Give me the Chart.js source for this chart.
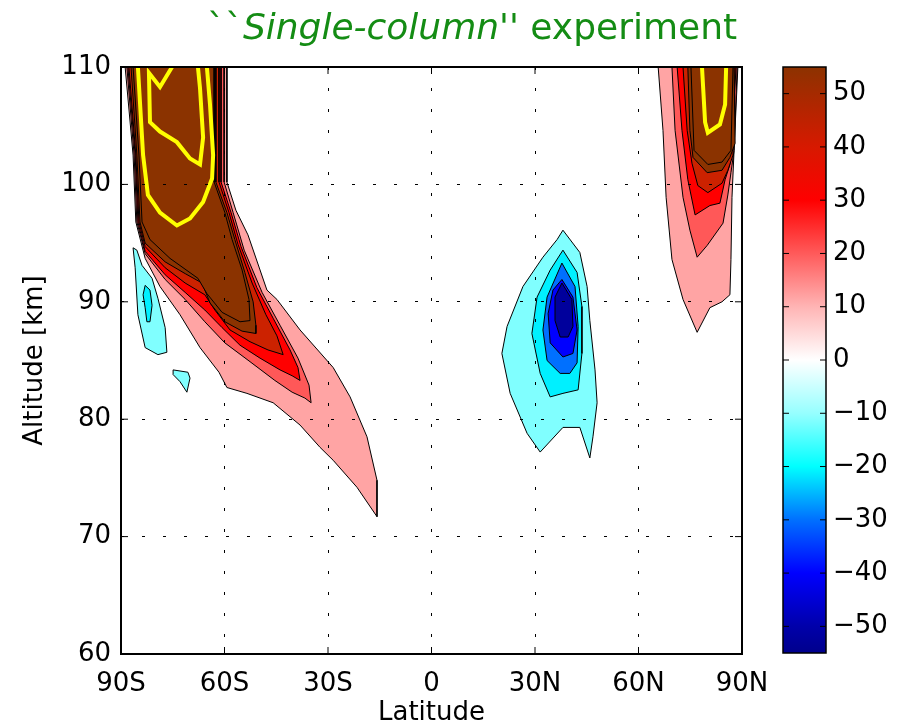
<!DOCTYPE html>
<html>
<head>
<meta charset="utf-8">
<title>Single-column experiment</title>
<script src="https://cdn.jsdelivr.net/npm/chart.js@4.4.1/dist/chart.umd.min.js"></script>
<style>
  html, body { margin: 0; padding: 0; background: #fff; }
  #wrap { position: relative; width: 900px; height: 728px; overflow: hidden; }
  #main { position: absolute; left: 0; top: 0; }
  #cbar { position: absolute; left: 760px; top: 0; }
  #title {
    position: absolute; left: 0; top: 6px; width: 944px; text-align: center;
    font: 36px 'DejaVu Sans', sans-serif; color: #148c14; white-space: nowrap;
  }
</style>
</head>
<body>
<div id="wrap">
  <canvas id="main" width="900" height="728"></canvas>
  <canvas id="cbar" width="140" height="728"></canvas>
  <div id="title">``<i>Single-column''</i> experiment</div>
</div>
<script>
// axes
const latTicks = [-90, -60, -30, 0, 30, 60, 90];
const latTickLabels = ['90S', '60S', '30S', '0', '30N', '60N', '90N'];
const altTicks = [60, 70, 80, 90, 100, 110];

// colour bar
const cbarTicks = [-50, -40, -30, -20, -10, 0, 10, 20, 30, 40, 50];
const cbarStops = [-55, -50, -40, -30, -20, -10, 0, 10, 20, 30, 40, 50, 55];
const cbarColors = ['#00008c', '#0000aa', '#0000ff', '#0070ff', '#00ffff', '#96ffff', '#ffffff',
                    '#ffb4b4', '#ff5a5a', '#ff0000', '#d71900', '#a52a00', '#8c3200'];

// contour levels and the fill of the band above each one
const levels = [-50, -40, -30, -20, -10, 10, 20, 30, 40, 50, 60];
const bandColors = ['#00009c', '#0000ff', '#0070ff', '#00f0ff', '#80ffff',
                    '#ffa4a4', '#ff5858', '#ff0000', '#cc2200', '#8b3300', '#8b3300'];

// contour outlines, [latitude, altitude km]; southern high-latitude tongue
const s10 = [[-88.8,110],[-59.3,110],[-59.3,100.2],[-56.7,97.8],[-53.2,95.7],[-47.7,91.0],[-44.8,90.2],
  [-38.1,87.6],[-28.5,84.4],[-23.6,81.9],[-18.7,78.5],[-15.8,74.8],[-15.8,71.7],[-21.6,74.2],[-28.5,76.5],
  [-32.3,77.6],[-38.1,79.5],[-45.9,81.4],[-53.5,82.2],[-59.3,82.7],[-61.6,84.0],[-67.1,86.1],[-72.9,88.9],
  [-78.7,91.3],[-83.0,93.7],[-85.7,96.8],[-86.5,102.5],[-88.8,110]];
const s20 = [[-88.3,110],[-60.1,110],[-60.1,100.2],[-57.5,97.6],[-54.3,94.4],[-49.1,90.8],[-43.9,88.0],
  [-38.7,85.2],[-35.5,82.9],[-34.9,81.4],[-36.7,81.8],[-40.4,82.3],[-45.4,83.3],[-52.6,84.9],[-59.9,86.5],
  [-65.7,88.3],[-71.4,90.2],[-77.2,91.9],[-83.0,94.1],[-85.4,96.8],[-86.2,102.5],[-88.3,110]];
const s30 = [[-88.0,110],[-61.0,110],[-61.0,100.2],[-58.1,97.6],[-55.2,94.7],[-50.6,91.2],[-45.9,88.6],
  [-41.0,85.9],[-38.7,84.4],[-38.1,83.3],[-40.4,83.7],[-43.9,84.2],[-49.7,85.2],[-55.5,86.3],[-60.7,87.8],
  [-65.7,89.3],[-71.4,90.8],[-77.2,92.3],[-83.0,94.3],[-85.1,96.8],[-85.9,102.5],[-88.0,110]];
const s40 = [[-87.7,110],[-61.6,110],[-61.6,100.2],[-58.7,97.6],[-56.1,94.9],[-52.0,91.6],[-48.0,88.9],
  [-44.8,87.1],[-43.0,85.5],[-47.4,85.9],[-52.6,86.6],[-58.4,87.6],[-62.8,89.3],[-65.7,90.6],[-71.4,91.6],
  [-77.2,92.9],[-83.0,94.7],[-84.8,96.8],[-85.7,102.5],[-87.7,110]];
const s50 = [[-87.1,110],[-62.5,110],[-62.5,100.2],[-59.3,97.6],[-57.0,95.3],[-54.1,92.5],[-51.7,90.0],
  [-50.9,88.0],[-50.9,87.3],[-54.9,87.5],[-59.9,88.3],[-64.2,89.9],[-66.5,91.6],[-71.4,92.4],[-77.2,93.4],
  [-83.0,95.0],[-84.5,96.8],[-85.4,102.5],[-87.1,110]];
const s60 = [[-86.5,110],[-63.0,110],[-63.0,100.2],[-59.9,97.6],[-57.8,95.3],[-54.9,92.7],[-52.9,90.2],
  [-52.6,88.4],[-55.5,88.3],[-60.7,89.1],[-65.1,90.7],[-67.7,92.0],[-75.8,93.7],[-81.6,95.3],[-83.9,96.8],
  [-84.8,102.5],[-86.5,110]];

// weak easterly patches next to it
const sNeg10a = [[-86.5,94.6],[-85.9,92.9],[-85.1,88.9],[-83.0,86.1],[-79.3,85.5],[-76.7,85.7],[-77.2,87.8],
  [-79.3,90.3],[-81.0,92.0],[-83.9,93.1],[-85.4,94.4],[-86.5,94.6]];
const sNeg20 = [[-83.0,91.4],[-81.6,91.0],[-81.0,89.7],[-81.6,88.3],[-82.5,88.3],[-83.0,89.5],[-83.6,90.6],[-83.0,91.4]];
const sNeg10b = [[-74.9,84.2],[-70.6,84.0],[-70.0,83.5],[-70.9,82.3],[-72.9,83.2],[-74.9,83.8],[-74.9,84.2]];

// mid-latitude northern minimum
const nNeg10 = [[38.1,96.1],[43.0,94.2],[45.1,91.3],[45.9,88.4],[47.4,84.2],[48.0,81.4],[46.8,78.5],[45.9,76.7],
  [43.0,79.3],[38.1,79.3],[31.5,77.2],[27.7,78.8],[22.8,82.2],[20.4,85.6],[21.9,87.9],[26.5,91.3],[32.3,93.8],
  [36.4,95.3],[38.1,96.1]];
const nNeg20 = [[38.1,94.4],[42.2,92.5],[43.6,89.6],[43.6,85.6],[42.5,82.5],[38.1,82.2],[34.4,81.9],[31.5,83.9],
  [29.1,87.3],[30.6,90.4],[34.4,92.7],[38.1,94.4]];
const nNeg30 = [[37.8,93.3],[41.6,91.3],[42.5,87.9],[42.2,84.8],[40.1,83.9],[37.3,83.9],[33.5,85.0],[32.3,87.6],
  [33.5,90.4],[37.8,93.3]];
const nNeg40 = [[37.8,91.9],[41.0,90.4],[42.2,87.6],[41.0,85.6],[38.1,85.3],[34.4,86.5],[33.8,89.0],[35.2,91.0],[37.8,91.9]];
const nNeg50 = [[37.8,91.6],[40.7,90.2],[41.0,87.9],[39.6,87.0],[37.3,87.0],[35.8,88.4],[35.8,90.4],[37.8,91.6]];

// northern high-latitude tongue
const n10 = [[65.7,110],[67.1,104.6],[68.0,98.9],[69.7,93.6],[72.9,90.2],[77.0,87.4],[80.7,89.5],[84.2,90.0],
  [86.5,90.6],[86.8,93.6],[87.1,98.9],[87.7,102.9],[88.8,110],[65.7,110]];
const n20 = [[69.7,110],[70.6,104.6],[72.9,98.9],[74.9,96.1],[77.0,93.8],[79.9,94.8],[84.5,96.7],[85.9,99.1],
  [86.8,101.0],[87.7,102.9],[88.6,110],[69.7,110]];
const n30 = [[71.2,110],[72.6,104.6],[74.3,100.4],[76.4,97.4],[80.7,98.2],[83.6,98.4],[85.1,100.4],[86.5,101.7],
  [88.3,110],[71.2,110]];
const n40 = [[72.9,110],[74.1,104.6],[75.5,101.8],[77.2,99.9],[80.1,99.3],[84.2,100.1],[85.9,101.2],[87.4,102.5],
  [88.0,110],[72.9,110]];
const n50 = [[74.3,110],[74.9,104.6],[75.8,102.3],[79.9,101.0],[84.2,101.2],[86.5,102.3],[88.0,103.5],[87.7,110],[74.3,110]];
const n60 = [[75.2,110],[76.1,102.9],[80.1,101.7],[84.2,101.9],[86.8,102.9],[87.4,110],[75.2,110]];

// highlighted strong-wind isolines (open at the top edge)
const yellowSouthOuter = [[-85.1,110],[-83.6,102.5],[-82.2,99.1],[-78.7,97.6],[-73.8,96.5],[-70.0,97.1],
  [-66.2,98.5],[-63.6,100.5],[-63.3,102.5],[-64.2,106.8],[-65.1,110]];
const yellowSouthInner = [[-75.2,110],[-78.7,108.3],[-81.9,109.5],[-81.6,105.3],[-78.7,104.5],[-73.8,103.6],
  [-70.0,102.2],[-67.1,101.7],[-66.2,104.0],[-67.1,108.2],[-67.7,110]];
const yellowNorth = [[78.4,110],[79.3,105.3],[80.1,104.4],[83.6,105.1],[85.1,106.8],[85.4,110]];

const contours = [
  {level: 10, pts: s10}, {level: 20, pts: s20}, {level: 30, pts: s30}, {level: 40, pts: s40},
  {level: 50, pts: s50}, {level: 60, pts: s60},
  {level: -10, pts: sNeg10a}, {level: -20, pts: sNeg20}, {level: -10, pts: sNeg10b},
  {level: -10, pts: nNeg10}, {level: -20, pts: nNeg20}, {level: -30, pts: nNeg30},
  {level: -40, pts: nNeg40}, {level: -50, pts: nNeg50},
  {level: 10, pts: n10}, {level: 20, pts: n20}, {level: 30, pts: n30}, {level: 40, pts: n40},
  {level: 50, pts: n50}, {level: 60, pts: n60}
];
const highlights = [yellowSouthOuter, yellowSouthInner, yellowNorth];

Chart.defaults.font.family = "'DejaVu Sans', sans-serif";
Chart.defaults.font.size = 26;
Chart.defaults.color = '#000';

const toXY = pts => pts.map(([x, y]) => ({x, y}));

const datasets = contours.map(c => ({
  data: toXY(c.pts),
  showLine: true,
  fill: 'shape',
  backgroundColor: bandColors[levels.indexOf(c.level)],
  borderColor: '#000',
  borderWidth: 1,
  pointRadius: 0,
  order: 100 - Math.abs(c.level)   // inner levels painted last
}));
highlights.forEach(pts => datasets.push({
  data: toXY(pts),
  showLine: true,
  fill: false,
  borderColor: '#ffff00',
  borderWidth: 4,
  pointRadius: 0,
  order: 0
}));

// box round the axes with inward tick marks
const axesBox = {
  id: 'axesBox',
  afterDraw(chart) {
    const {ctx, chartArea: a, scales} = chart;
    ctx.save();
    ctx.strokeStyle = '#000';
    ctx.lineWidth = 1;
    ctx.beginPath();
    latTicks.forEach(v => {
      const px = scales.x.getPixelForValue(v);
      ctx.moveTo(px, a.bottom); ctx.lineTo(px, a.bottom - 7);
      ctx.moveTo(px, a.top); ctx.lineTo(px, a.top + 7);
    });
    altTicks.forEach(v => {
      const py = scales.y.getPixelForValue(v);
      ctx.moveTo(a.left, py); ctx.lineTo(a.left + 7, py);
      ctx.moveTo(a.right, py); ctx.lineTo(a.right - 7, py);
    });
    ctx.stroke();
    ctx.lineWidth = 2;
    ctx.strokeRect(a.left, a.top, a.right - a.left, a.bottom - a.top);
    ctx.restore();
  }
};

const gridDots = {color: '#000', lineWidth: 1, drawTicks: false, z: 1};

new Chart(document.getElementById('main'), {
  type: 'scatter',
  data: {datasets},
  options: {
    responsive: false,
    animation: false,
    layout: {padding: {left: 0, top: 67, right: 158, bottom: 0}},
    plugins: {legend: {display: false}, tooltip: {enabled: false}},
    scales: {
      x: {
        type: 'linear', min: -90, max: 90,
        afterBuildTicks: s => { s.ticks = latTicks.map(v => ({value: v})); },
        afterFit: s => { s.height = 74; },
        ticks: {
          autoSkip: false, maxRotation: 0, padding: 15,
          callback: v => latTickLabels[latTicks.indexOf(v)]
        },
        grid: gridDots,
        border: {display: false, dash: [3, 18]},
        title: {display: true, text: 'Latitude', font: {lineHeight: 1.1}, padding: {top: 0, bottom: 0}}
      },
      y: {
        type: 'linear', min: 60, max: 110,
        afterBuildTicks: s => { s.ticks = altTicks.map(v => ({value: v})); },
        afterFit: s => { s.width = 121; },
        ticks: {padding: 10},
        grid: gridDots,
        border: {display: false, dash: [3, 18]},
        title: {display: true, text: 'Altitude [km]', padding: {top: 20, bottom: 0}}
      }
    }
  },
  plugins: [axesBox]
});

// colour bar: one floating bar spanning the full range, painted with the colour map
const cbarTickMarks = {
  id: 'cbarTickMarks',
  afterDraw(chart) {
    const {ctx, chartArea: a, scales} = chart;
    ctx.save();
    ctx.strokeStyle = '#000';
    ctx.lineWidth = 1;
    ctx.beginPath();
    cbarTicks.forEach(v => {
      const py = scales.y.getPixelForValue(v);
      ctx.moveTo(a.left, py); ctx.lineTo(a.left + 6, py);
      ctx.moveTo(a.right, py); ctx.lineTo(a.right - 6, py);
    });
    ctx.stroke();
    ctx.lineWidth = 1.5;
    ctx.strokeRect(a.left, a.top, a.right - a.left, a.bottom - a.top);
    ctx.restore();
  }
};

const cmin = cbarStops[0];
const cmax = cbarStops[cbarStops.length - 1];

new Chart(document.getElementById('cbar'), {
  type: 'bar',
  data: {
    labels: [''],
    datasets: [{
      data: [[cmin, cmax]],
      backgroundColor: c => {
        const chart = c.chart;
        if (!chart.chartArea) return 'transparent';
        const y = chart.scales.y;
        const g = chart.ctx.createLinearGradient(0, y.getPixelForValue(cmin), 0, y.getPixelForValue(cmax));
        cbarStops.forEach((v, i) => g.addColorStop((v - cmin) / (cmax - cmin), cbarColors[i]));
        return g;
      },
      borderWidth: 0,
      categoryPercentage: 1,
      barPercentage: 1
    }]
  },
  options: {
    responsive: false,
    animation: false,
    layout: {padding: {left: 23, top: 67, right: 0, bottom: 75}},
    plugins: {legend: {display: false}, tooltip: {enabled: false}},
    scales: {
      x: {display: false},
      y: {
        position: 'right', min: cmin, max: cmax,
        afterBuildTicks: s => { s.ticks = cbarTicks.map(v => ({value: v})); },
        afterFit: s => { s.width = 74; },
        grid: {display: false, drawTicks: false},
        border: {display: false},
        ticks: {padding: 7, callback: v => (v < 0 ? '\u2212' + Math.abs(v) : String(v))}
      }
    }
  },
  plugins: [cbarTickMarks]
});
</script>
</body>
</html>
